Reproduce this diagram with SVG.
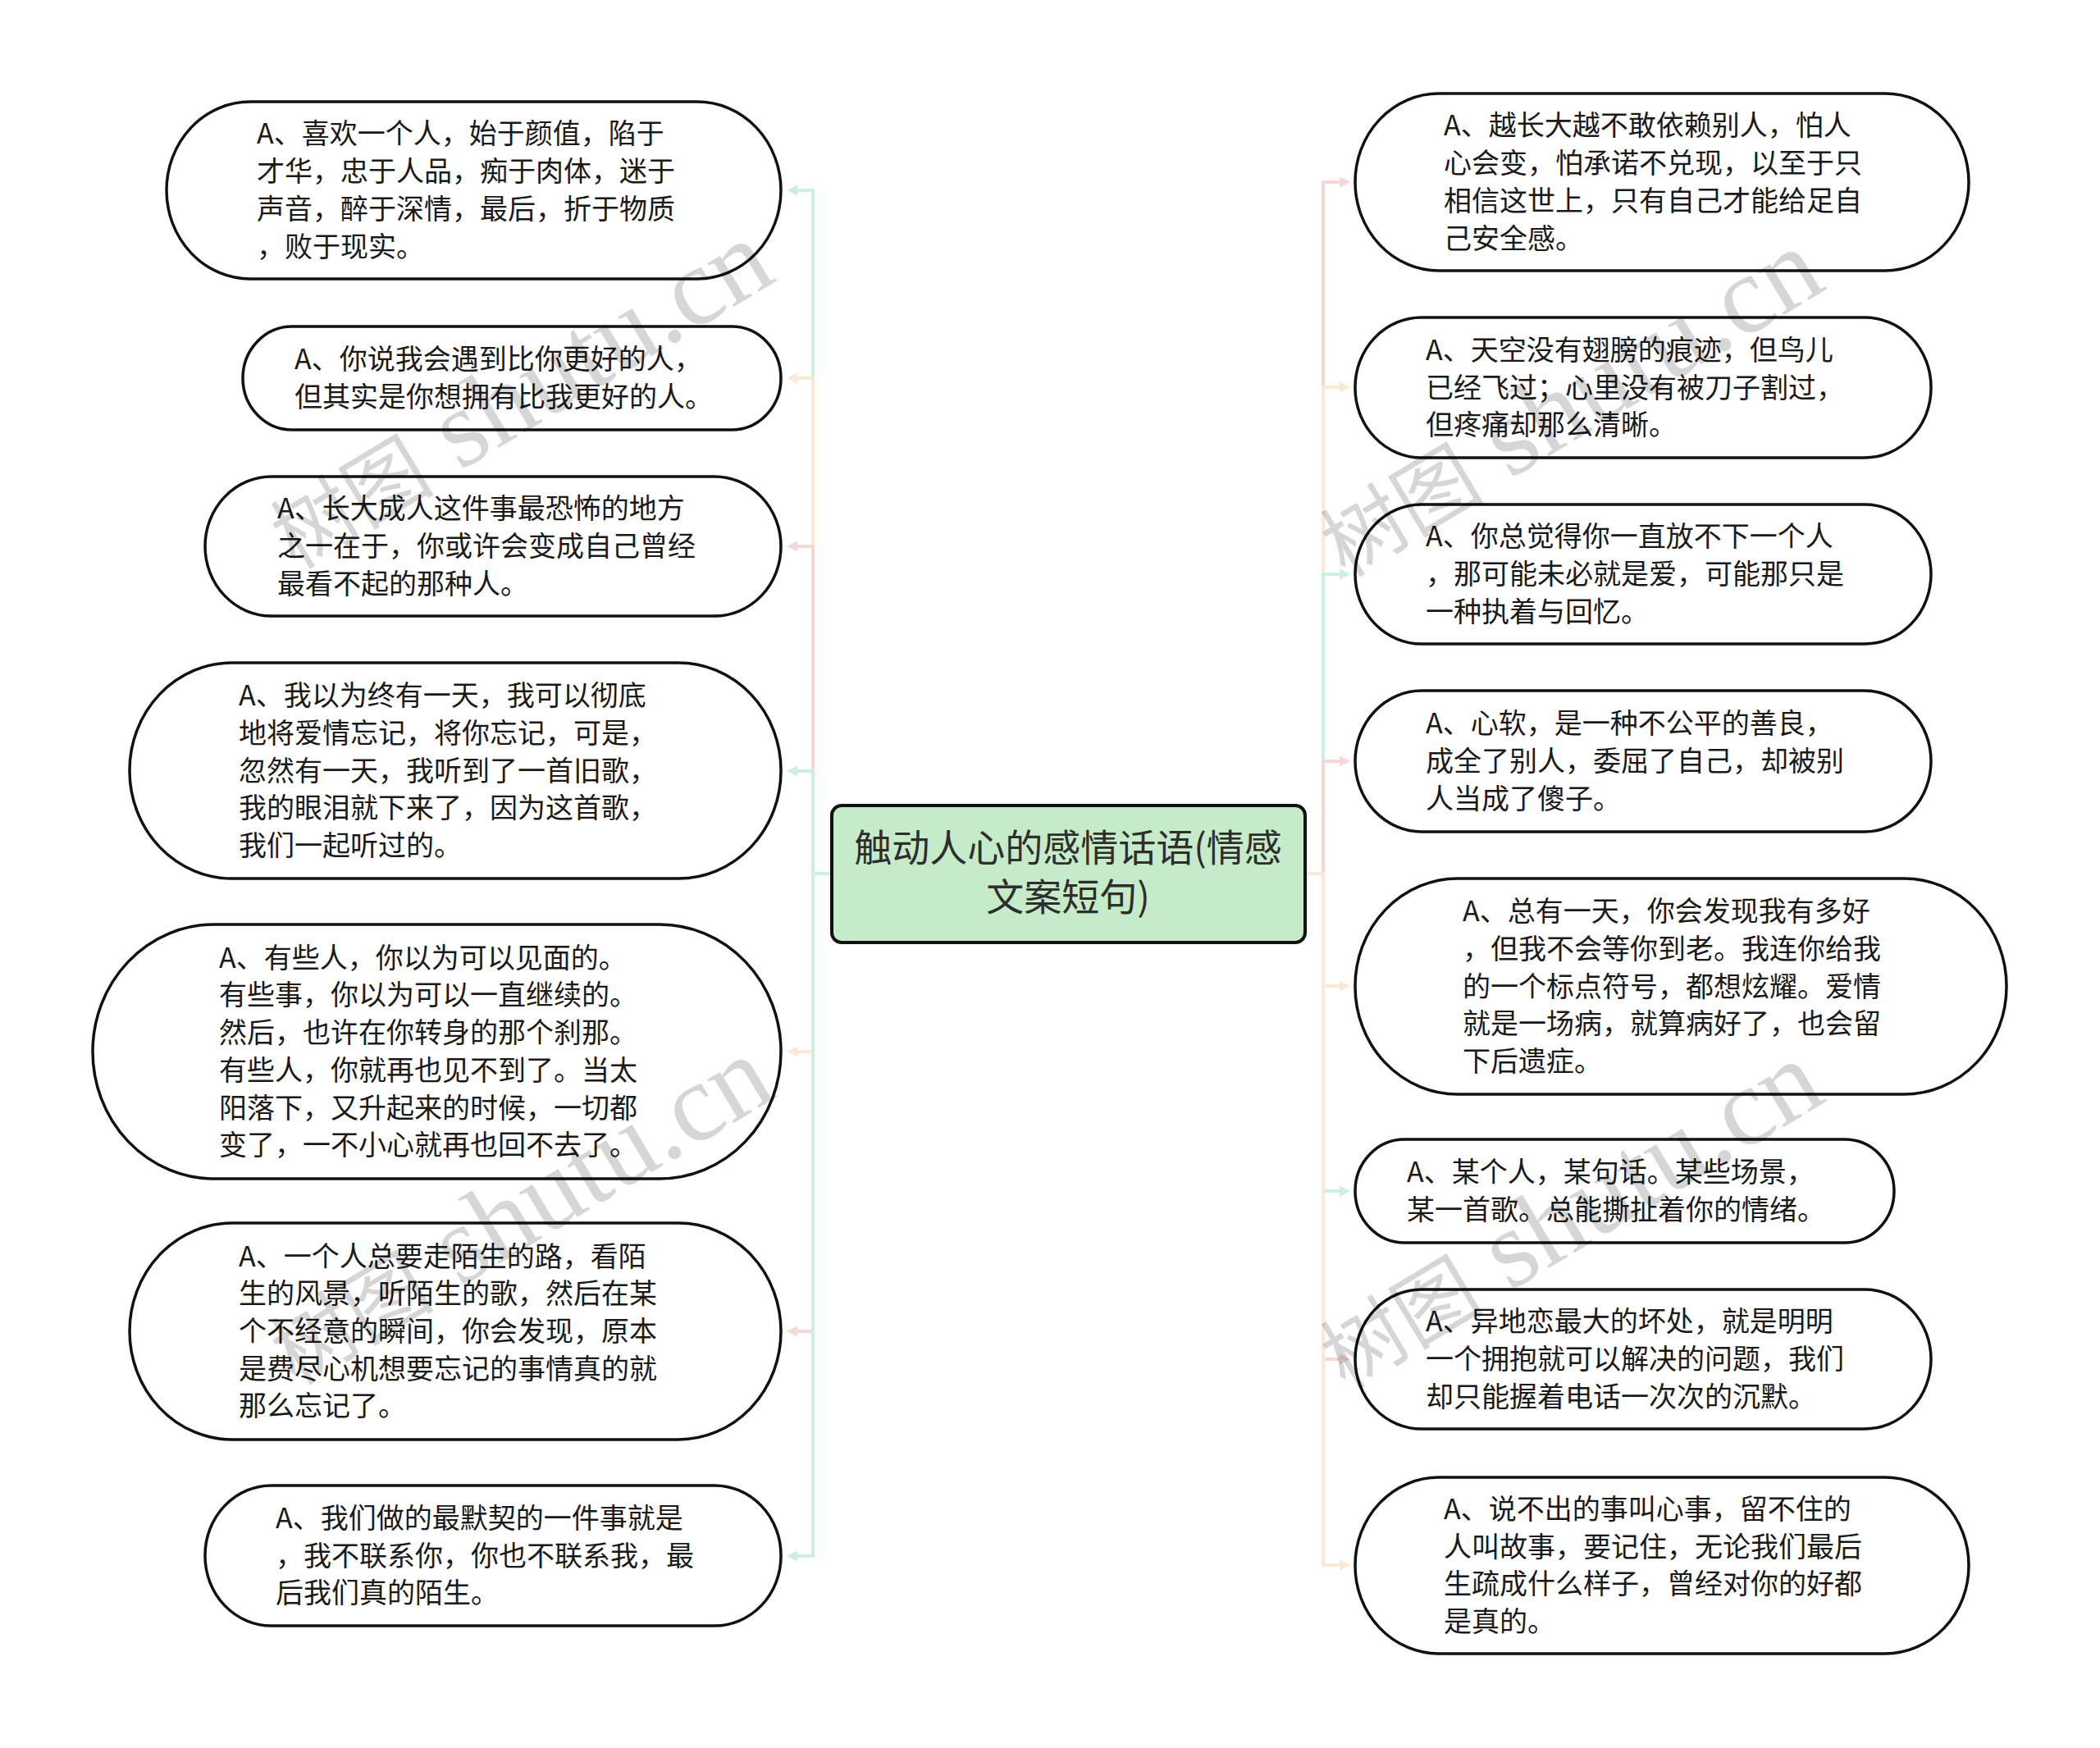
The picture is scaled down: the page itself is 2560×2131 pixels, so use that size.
<svg xmlns="http://www.w3.org/2000/svg" width="2560" height="2131" viewBox="0 0 2560 2131">
<defs>
<style>
.leaf{fill:#ffffff;stroke:#111111;stroke-width:3.5}
.root{fill:#c5ebc9;stroke:#111111;stroke-width:4}
.lt{font-family:"Noto Sans CJK SC","Noto Sans",sans-serif;font-size:34px;fill:#1a1a1a}
.rt{font-family:"Noto Sans CJK SC","Noto Sans",sans-serif;font-size:46px;fill:#2e2e2e}
.c{fill:none;stroke-width:4;stroke-linejoin:miter}
.teal{stroke:#cbeee7}
.cream{stroke:#fbe9d5}
.pink{stroke:#f8d6d6}
.wm{fill:#000000;fill-opacity:0.16}
.wmc{font-family:"Noto Sans CJK SC",sans-serif;font-size:100px}
.wml{font-family:"Liberation Serif",serif;font-size:135px}
</style>
<marker id="aTeal" markerUnits="userSpaceOnUse" markerWidth="14" markerHeight="14" viewBox="0 0 14 14" refX="1" refY="7" orient="auto"><path d="M0,0.5 L13,7 L0,13.5 z" fill="#cbeee7"/></marker>
<marker id="aCream" markerUnits="userSpaceOnUse" markerWidth="14" markerHeight="14" viewBox="0 0 14 14" refX="1" refY="7" orient="auto"><path d="M0,0.5 L13,7 L0,13.5 z" fill="#fbe9d5"/></marker>
<marker id="aPink" markerUnits="userSpaceOnUse" markerWidth="14" markerHeight="14" viewBox="0 0 14 14" refX="1" refY="7" orient="auto"><path d="M0,0.5 L13,7 L0,13.5 z" fill="#f8d6d6"/></marker>
</defs>
<rect width="2560" height="2131" fill="#ffffff"/>
<g id="connectors">
<path class="c teal" marker-end="url(#aTeal)" d="M1014,1065 H991 V232 H971"/>
<path class="c cream" marker-end="url(#aCream)" d="M1014,1065 H991 V461 H971"/>
<path class="c pink" marker-end="url(#aPink)" d="M1014,1065 H991 V666 H971"/>
<path class="c teal" marker-end="url(#aTeal)" d="M1014,1065 H991 V940 H971"/>
<path class="c cream" marker-end="url(#aCream)" d="M1014,1065 H991 V1282 H971"/>
<path class="c pink" marker-end="url(#aPink)" d="M1014,1065 H991 V1623 H971"/>
<path class="c teal" marker-end="url(#aTeal)" d="M1014,1065 H991 V1897 H971"/>
<path class="c pink" marker-end="url(#aPink)" d="M1591,1065 H1613 V222 H1634"/>
<path class="c cream" marker-end="url(#aCream)" d="M1591,1065 H1613 V472 H1634"/>
<path class="c teal" marker-end="url(#aTeal)" d="M1591,1065 H1613 V700 H1634"/>
<path class="c pink" marker-end="url(#aPink)" d="M1591,1065 H1613 V928 H1634"/>
<path class="c cream" marker-end="url(#aCream)" d="M1591,1065 H1613 V1202 H1634"/>
<path class="c teal" marker-end="url(#aTeal)" d="M1591,1065 H1613 V1452 H1634"/>
<path class="c pink" marker-end="url(#aPink)" d="M1591,1065 H1613 V1657 H1634"/>
<path class="c cream" marker-end="url(#aCream)" d="M1591,1065 H1613 V1908 H1634"/>
</g>
<g id="root">
<rect class="root" x="1014" y="982" width="577" height="167" rx="12" ry="12"/>
<text class="rt" text-anchor="middle"><tspan x="1302" y="1050">触动人心的感情话语(情感</tspan><tspan x="1302" y="1110">文案短句)</tspan></text>
</g>
<g id="L1">
<rect class="leaf" x="203" y="124" width="749" height="216" rx="102" ry="108"/>
<text class="lt"><tspan x="313" y="175">A、喜欢一个人，始于颜值，陷于</tspan><tspan x="313" y="221">才华，忠于人品，痴于肉体，迷于</tspan><tspan x="313" y="267">声音，醉于深情，最后，折于物质</tspan><tspan x="313" y="313">，败于现实。</tspan></text>
</g>
<g id="L2">
<rect class="leaf" x="296" y="398" width="656" height="126" rx="60" ry="63"/>
<text class="lt"><tspan x="359" y="450">A、你说我会遇到比你更好的人，</tspan><tspan x="359" y="496">但其实是你想拥有比我更好的人。</tspan></text>
</g>
<g id="L3">
<rect class="leaf" x="250" y="581" width="702" height="170" rx="81" ry="85"/>
<text class="lt"><tspan x="338" y="632">A、长大成人这件事最恐怖的地方</tspan><tspan x="338" y="678">之一在于，你或许会变成自己曾经</tspan><tspan x="338" y="724">最看不起的那种人。</tspan></text>
</g>
<g id="L4">
<rect class="leaf" x="158" y="808" width="794" height="263" rx="125" ry="131"/>
<text class="lt"><tspan x="291" y="860">A、我以为终有一天，我可以彻底</tspan><tspan x="291" y="906">地将爱情忘记，将你忘记，可是，</tspan><tspan x="291" y="952">忽然有一天，我听到了一首旧歌，</tspan><tspan x="291" y="997">我的眼泪就下来了，因为这首歌，</tspan><tspan x="291" y="1043">我们一起听过的。</tspan></text>
</g>
<g id="L5">
<rect class="leaf" x="113" y="1127" width="839" height="310" rx="148" ry="155"/>
<text class="lt"><tspan x="267" y="1180">A、有些人，你以为可以见面的。</tspan><tspan x="267" y="1225">有些事，你以为可以一直继续的。</tspan><tspan x="267" y="1271">然后，也许在你转身的那个刹那。</tspan><tspan x="267" y="1317">有些人，你就再也见不到了。当太</tspan><tspan x="267" y="1363">阳落下，又升起来的时候，一切都</tspan><tspan x="267" y="1408">变了，一不小心就再也回不去了。</tspan></text>
</g>
<g id="L6">
<rect class="leaf" x="158" y="1491" width="794" height="264" rx="125" ry="132"/>
<text class="lt"><tspan x="291" y="1544">A、一个人总要走陌生的路，看陌</tspan><tspan x="291" y="1589">生的风景，听陌生的歌，然后在某</tspan><tspan x="291" y="1635">个不经意的瞬间，你会发现，原本</tspan><tspan x="291" y="1681">是费尽心机想要忘记的事情真的就</tspan><tspan x="291" y="1726">那么忘记了。</tspan></text>
</g>
<g id="L7">
<rect class="leaf" x="250" y="1811" width="702" height="171" rx="81" ry="85"/>
<text class="lt"><tspan x="336" y="1863">A、我们做的最默契的一件事就是</tspan><tspan x="336" y="1909">，我不联系你，你也不联系我，最</tspan><tspan x="336" y="1954">后我们真的陌生。</tspan></text>
</g>
<g id="R1">
<rect class="leaf" x="1652" y="114" width="748" height="216" rx="102" ry="108"/>
<text class="lt"><tspan x="1760" y="165">A、越长大越不敢依赖别人，怕人</tspan><tspan x="1760" y="211">心会变，怕承诺不兑现，以至于只</tspan><tspan x="1760" y="257">相信这世上，只有自己才能给足自</tspan><tspan x="1760" y="303">己安全感。</tspan></text>
</g>
<g id="R2">
<rect class="leaf" x="1652" y="387" width="702" height="171" rx="81" ry="85"/>
<text class="lt"><tspan x="1738" y="439">A、天空没有翅膀的痕迹，但鸟儿</tspan><tspan x="1738" y="485">已经飞过；心里没有被刀子割过，</tspan><tspan x="1738" y="530">但疼痛却那么清晰。</tspan></text>
</g>
<g id="R3">
<rect class="leaf" x="1652" y="615" width="702" height="170" rx="81" ry="85"/>
<text class="lt"><tspan x="1738" y="666">A、你总觉得你一直放不下一个人</tspan><tspan x="1738" y="712">，那可能未必就是爱，可能那只是</tspan><tspan x="1738" y="758">一种执着与回忆。</tspan></text>
</g>
<g id="R4">
<rect class="leaf" x="1652" y="842" width="702" height="172" rx="81" ry="86"/>
<text class="lt"><tspan x="1738" y="894">A、心软，是一种不公平的善良，</tspan><tspan x="1738" y="940">成全了别人，委屈了自己，却被别</tspan><tspan x="1738" y="986">人当成了傻子。</tspan></text>
</g>
<g id="R5">
<rect class="leaf" x="1652" y="1071" width="794" height="263" rx="125" ry="131"/>
<text class="lt"><tspan x="1783" y="1123">A、总有一天，你会发现我有多好</tspan><tspan x="1783" y="1169">，但我不会等你到老。我连你给我</tspan><tspan x="1783" y="1215">的一个标点符号，都想炫耀。爱情</tspan><tspan x="1783" y="1260">就是一场病，就算病好了，也会留</tspan><tspan x="1783" y="1306">下后遗症。</tspan></text>
</g>
<g id="R6">
<rect class="leaf" x="1652" y="1389" width="657" height="126" rx="60" ry="63"/>
<text class="lt"><tspan x="1715" y="1441">A、某个人，某句话。某些场景，</tspan><tspan x="1715" y="1487">某一首歌。总能撕扯着你的情绪。</tspan></text>
</g>
<g id="R7">
<rect class="leaf" x="1652" y="1572" width="702" height="170" rx="81" ry="85"/>
<text class="lt"><tspan x="1738" y="1623">A、异地恋最大的坏处，就是明明</tspan><tspan x="1738" y="1669">一个拥抱就可以解决的问题，我们</tspan><tspan x="1738" y="1715">却只能握着电话一次次的沉默。</tspan></text>
</g>
<g id="R8">
<rect class="leaf" x="1652" y="1801" width="748" height="215" rx="102" ry="107"/>
<text class="lt"><tspan x="1760" y="1852">A、说不出的事叫心事，留不住的</tspan><tspan x="1760" y="1898">人叫故事，要记住，无论我们最后</tspan><tspan x="1760" y="1943">生疏成什么样子，曾经对你的好都</tspan><tspan x="1760" y="1989">是真的。</tspan></text>
</g>
<g id="watermarks" class="wm">
<text transform="translate(360,695) rotate(-31)"><tspan class="wmc">树图</tspan><tspan class="wml"> shutu.cn</tspan></text>
<text transform="translate(360,1690) rotate(-31)"><tspan class="wmc">树图</tspan><tspan class="wml"> shutu.cn</tspan></text>
<text transform="translate(1640,705) rotate(-31)"><tspan class="wmc">树图</tspan><tspan class="wml"> shutu.cn</tspan></text>
<text transform="translate(1640,1695) rotate(-31)"><tspan class="wmc">树图</tspan><tspan class="wml"> shutu.cn</tspan></text>
</g>
</svg>
